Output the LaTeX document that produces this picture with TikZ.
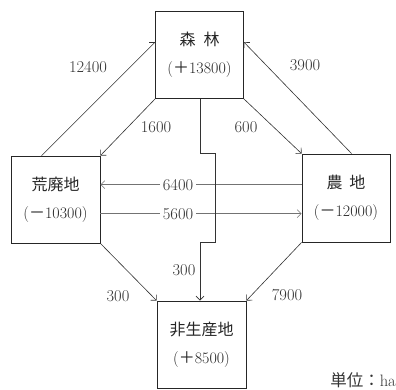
\documentclass[tikz,border=0pt]{standalone}
\usepackage{fontspec}
\newfontfamily\cjk{Noto Sans CJK JP}
\usetikzlibrary{arrows.meta,calc}
\begin{document}
\begin{tikzpicture}[x=1pt,y=-1pt,
 box/.style={draw=black!85, line width=0.8pt, minimum width=88pt, minimum height=87pt, align=center, inner sep=0pt, text=black!85, font=\fontsize{16}{28}\selectfont},
 flow/.style={draw=black!80, line width=0.6pt, -{Straight Barb[length=4pt,width=8pt]}},
 hflow/.style={flow, draw=black!55},
 lab/.style={text=black!80, font=\fontsize{16.5}{18}\selectfont, inner sep=1.5pt},
 onlab/.style={lab, fill=white, inner sep=3pt},
]
\useasboundingbox (0,0) rectangle (396,389);
\node[box] (forest) at (199.5,55) {{\cjk 森\hspace{8pt}林}\\({\cjk ＋}13800)};
\node[box, minimum width=89pt] (waste) at (55.5,199.5) {{\cjk 荒廃地}\\({\cjk －}10300)};
\node[box, minimum height=88pt] (farm) at (346,198) {{\cjk 農\hspace{7pt}地}\\({\cjk －}12000)};
\node[box, minimum width=89pt] (nonprod) at (201.5,344.5) {{\cjk 非生産地}\\({\cjk ＋}8500)};
\node[lab, anchor=east, inner sep=0pt] (unit) at (396,380) {{\cjk 単位：}ha};

\coordinate (a1) at ($(waste.north west)+(31,0)$);
\coordinate (a2) at ($(forest.north west)+(0,31)$);
\draw[flow] (a1) -- (a2);
\coordinate (b1) at ($(farm.north west)+(50,0)$);
\coordinate (b2) at ($(forest.north east)+(0,31)$);
\draw[flow] (b1) -- (b2);
\draw[flow] (forest.south west) -- (waste.north east);
\draw[flow] (forest.south east) -- (farm.north west);
\draw[flow] (waste.south east) -- (nonprod.north west);
\draw[flow] (farm.south west) -- (nonprod.north east);

\coordinate (c1) at ($(farm.north west)+(0,31)$);
\draw[hflow] (c1) -- (waste.east |- c1);
\coordinate (d1) at ($(waste.north east)+(0,58)$);
\draw[hflow] (d1) -- (farm.west |- d1);

\coordinate (v0) at (200,98.5);
\coordinate (v5) at (200,300.5);
\draw[flow] (v0) -- (200,153) -- (215,153) -- (215,242) -- (200,242) -- (v5);

\node[lab] (l12400) at (88,67) {12400};
\node[lab] (l3900) at (305,65) {3900};
\node[lab] (l1600) at (156,127) {1600};
\node[lab] (l600) at (246,127) {600};
\node[onlab] (l6400) at (178,185) {6400};
\node[onlab] (l5600) at (178,214) {5600};
\node[lab] (l300v) at (184,270) {300};
\node[lab] (l300) at (118,296) {300};
\node[lab] (l7900) at (287,295) {7900};
\end{tikzpicture}
\end{document}
